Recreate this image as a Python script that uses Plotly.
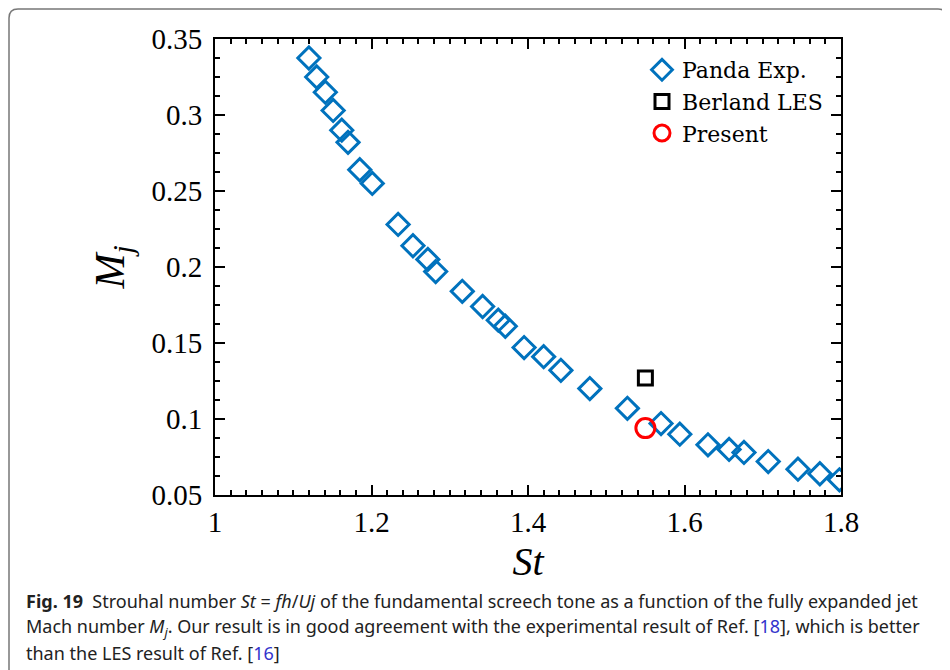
import plotly.graph_objects as go

# Data
panda_st = [1.120, 1.130, 1.141, 1.151, 1.162, 1.170, 1.185, 1.201, 1.234, 1.253,
            1.272, 1.282, 1.316, 1.342, 1.362, 1.371, 1.395, 1.420, 1.442, 1.479,
            1.527, 1.570, 1.594, 1.630, 1.657, 1.676, 1.707, 1.745, 1.773, 1.798]
panda_mj = [0.3375, 0.325, 0.315, 0.303, 0.290, 0.282, 0.264, 0.255, 0.228, 0.214,
            0.205, 0.197, 0.184, 0.174, 0.165, 0.161, 0.147, 0.141, 0.132, 0.120,
            0.107, 0.097, 0.090, 0.083, 0.080, 0.078, 0.072, 0.067, 0.064, 0.060]
berland_st = [1.55]
berland_mj = [0.127]
present_st = [1.55]
present_mj = [0.094]

x_ticks = [1, 1.2, 1.4, 1.6, 1.8]
x_labels = ["1", "1.2", "1.4", "1.6", "1.8"]
y_ticks = [0.05, 0.1, 0.15, 0.2, 0.25, 0.3, 0.35]
y_labels = ["0.05", "0.1", "0.15", "0.2", "0.25", "0.3", "0.35"]

serif = "Liberation Serif, Times New Roman, serif"

fig = go.Figure()
fig.add_trace(go.Scatter(
    x=panda_st, y=panda_mj, mode="markers", name="Panda Exp.",
    marker=dict(symbol="diamond-open", size=17, color="#0072BD",
                line=dict(width=3, color="#0072BD"))))
fig.add_trace(go.Scatter(
    x=berland_st, y=berland_mj, mode="markers", name="Berland LES",
    marker=dict(symbol="square-open", size=14, color="black",
                line=dict(width=3, color="black"))))
fig.add_trace(go.Scatter(
    x=present_st, y=present_mj, mode="markers", name="Present",
    marker=dict(symbol="circle-open", size=19, color="#FF0000",
                line=dict(width=3, color="#FF0000"))))

axis_common = dict(
    showline=True, linecolor="black", linewidth=2, mirror="allticks",
    ticks="inside", ticklen=10, tickwidth=2, tickcolor="black",
    showgrid=False, zeroline=False, automargin=False,
    tickfont=dict(family=serif, size=29, color="black"),
)

fig.update_xaxes(range=[1, 1.8], tickvals=x_ticks, ticktext=x_labels,
                 minor=dict(ticks="inside", ticklen=5, tickwidth=2, dtick=0.02,
                            tickcolor="black", showgrid=False),
                 title=dict(text="<i>St</i>", font=dict(family=serif, size=40, color="black"),
                            standoff=10),
                 **axis_common)
fig.update_yaxes(range=[0.05, 0.35], tickvals=y_ticks, ticktext=y_labels,
                 ticklabelstandoff=5,
                 minor=dict(ticks="inside", ticklen=5, tickwidth=2, dtick=0.0125,
                            tickcolor="black", showgrid=False),
                 title=dict(text="<i>M<sub>j</sub></i>", font=dict(family=serif, size=42, color="black"),
                            standoff=14),
                 **axis_common)

# The page body adds an 8 px offset; work in reference-screen pixels
OFF = 8
W, H = 950, 670
plot_left, plot_right, plot_top, plot_bottom = 215, 841, 39, 495
l = plot_left - OFF
t = plot_top - OFF
r = W - (plot_right - OFF)
b = H - (plot_bottom - OFF)
pw, ph = W - l - r, H - t - b

def px(xp):
    return (xp - OFF - l) / pw

def py(yp):
    return (H - b - (yp - OFF)) / ph

caption = [
    "<b>Fig. 19</b>  Strouhal number <i>St</i> = <i>fh</i>/<i>Uj</i> of the fundamental screech tone as a function of the fully expanded jet",
    "Mach number <i>M<sub>j</sub></i>. Our result is in good agreement with the experimental result of Ref. [<span style='color:#3333CC'>18</span>], which is better",
    "than the LES result of Ref. [<span style='color:#3333CC'>16</span>]",
]
annotations = []
for i, line in enumerate(caption):
    annotations.append(dict(
        text=line, xref="paper", yref="paper", x=px(24), y=py(601 + 26 * i),
        xanchor="left", yanchor="middle", showarrow=False, align="left",
        font=dict(family="Noto Sans, sans-serif", size=18, color="#222222")))

# rounded frame around the figure (open at the bottom, beyond the view)
rad = 9
bx0, bx1, by0, by1 = 9, 947, 9, 690
kx = rad / pw
ky = rad / ph
frame_path = (
    f"M {px(bx0)},{py(by1)} L {px(bx0)},{py(by0) - ky} "
    f"Q {px(bx0)},{py(by0)} {px(bx0) + kx},{py(by0)} "
    f"L {px(bx1) - kx},{py(by0)} "
    f"Q {px(bx1)},{py(by0)} {px(bx1)},{py(by0) - ky} "
    f"L {px(bx1)},{py(by1)}"
)

fig.update_layout(
    width=W, height=H,
    margin=dict(l=l, r=r, t=t, b=b),
    paper_bgcolor="white", plot_bgcolor="white",
    showlegend=True,
    legend=dict(x=px(642), y=py(49), xanchor="left", yanchor="top",
                bgcolor="rgba(0,0,0,0)", borderwidth=0,
                font=dict(family="DejaVu Serif, serif", size=22, color="black"),
                tracegroupgap=0, itemwidth=30),
    annotations=annotations,
    shapes=[dict(type="path", xref="paper", yref="paper", path=frame_path,
                 line=dict(color="#777777", width=1.5), layer="below")],
)

fig.write_html("out.html")
